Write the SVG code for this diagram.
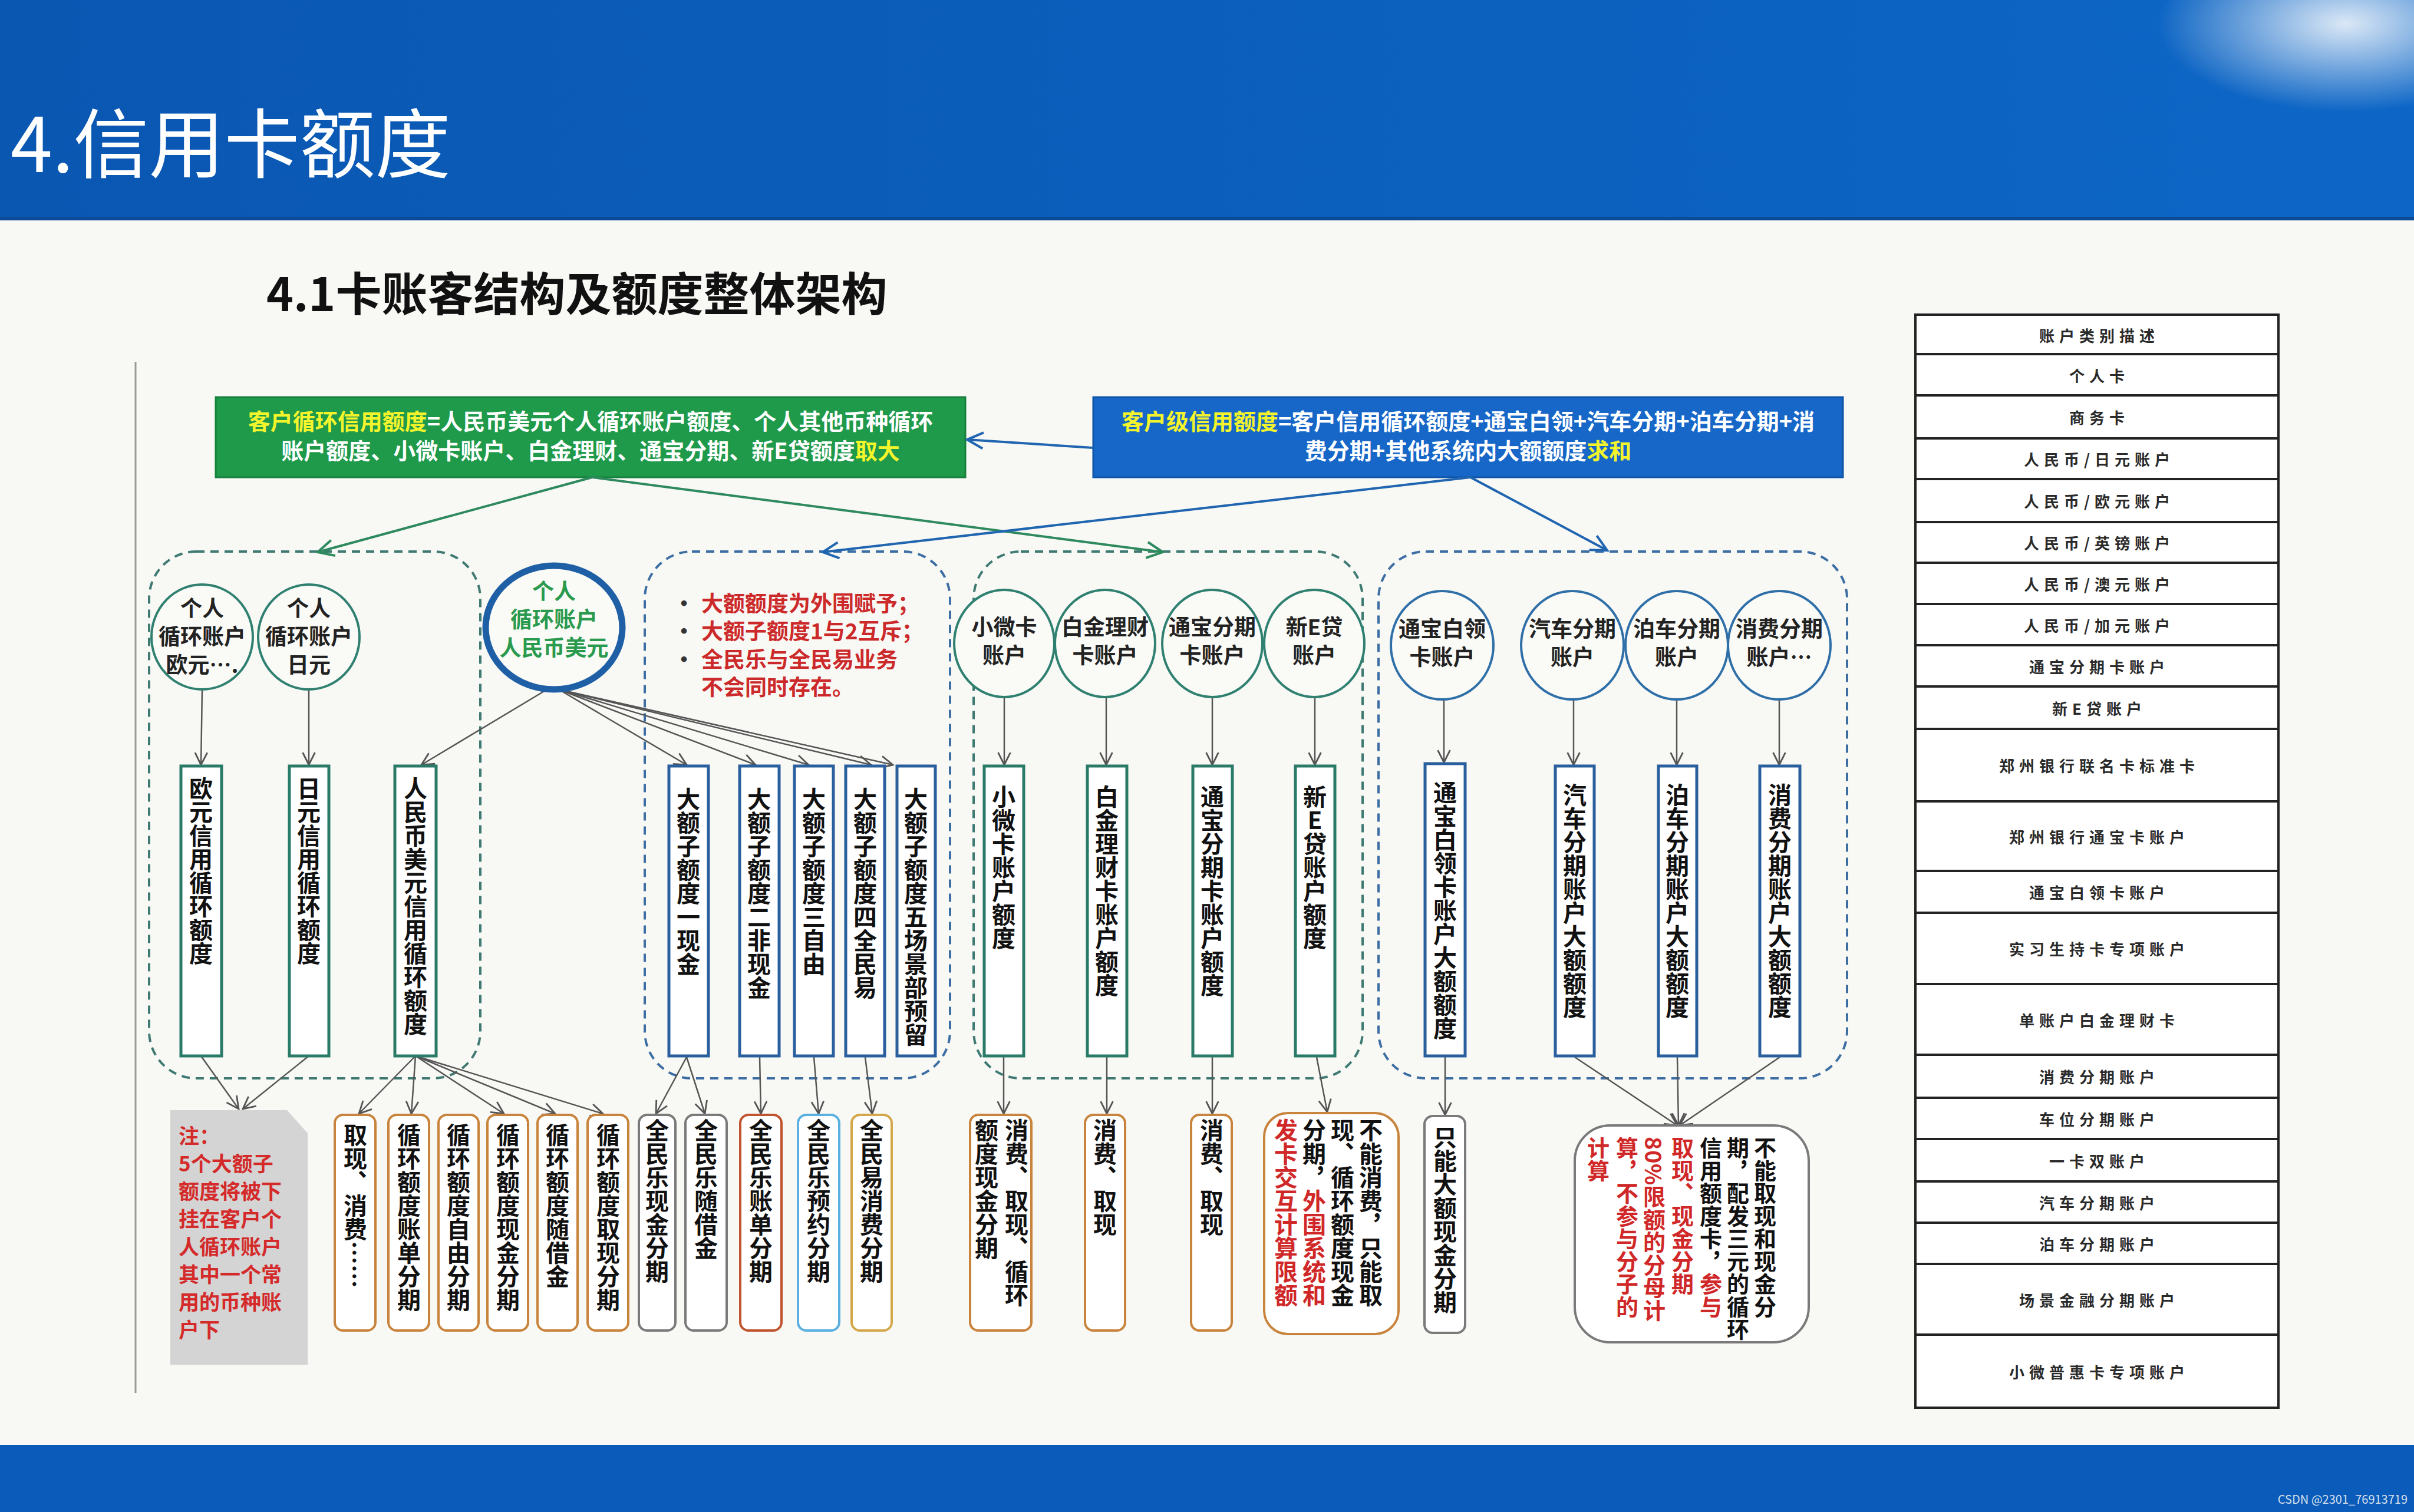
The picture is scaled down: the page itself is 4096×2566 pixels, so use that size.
<svg xmlns="http://www.w3.org/2000/svg" width="4096" height="2566" viewBox="0 0 4096 2566">
<style>
text{font-family:"Noto Sans CJK SC","Noto Sans",sans-serif}
.title{font-size:128px;fill:#fff}
.sub{font-size:78px;font-weight:700;fill:#111}
.bx{font-size:38px;font-weight:700;fill:#fff}
.hl{fill:#f4f42c}
.grp-g{fill:none;stroke:#3f7a72;stroke-width:4;stroke-dasharray:14 10}
.grp-b{fill:none;stroke:#3d6ea3;stroke-width:4;stroke-dasharray:14 10}
.cir-g{fill:#fafaf7;stroke:#2f8070;stroke-width:4}
.cir-b{fill:#fafaf7;stroke:#2f6fa8;stroke-width:4}
.ct{font-size:37px;font-weight:700;fill:#222;text-anchor:middle}
.rg{fill:#fff;stroke:#2a7a68;stroke-width:5}
.rb{fill:#fff;stroke:#2a5f9e;stroke-width:5}
.vt{font-size:40px;font-weight:700;fill:#111;writing-mode:vertical-rl}
.vs{font-size:38px;font-weight:700;fill:#111;writing-mode:vertical-rl;letter-spacing:0.5px}
.red{fill:#d02828}
.bo{fill:#fff;stroke:#c8843c;stroke-width:4}
.bgr{fill:#fff;stroke:#7a7a7a;stroke-width:4}
.bro{fill:#fff;stroke:#c0542e;stroke-width:4}
.blb{fill:#fff;stroke:#5ab0e0;stroke-width:4}
.bgo{fill:#fff;stroke:#d4a84a;stroke-width:4}
.bul{font-size:37px;font-weight:700;fill:#cc2a2a}
.note{font-size:35px;font-weight:700;fill:#d42a2a}
.tb{fill:#fff;stroke:#222;stroke-width:4}
.tt{font-size:26px;font-weight:700;fill:#2a2a2a;text-anchor:middle;letter-spacing:8px;dominant-baseline:central}
.cg{fill:none;stroke:#555;stroke-width:2.5}
</style>
<defs>
<linearGradient id="hdr" x1="0" y1="0" x2="1" y2="0">
<stop offset="0" stop-color="#0a57b2"/>
<stop offset="1" stop-color="#0d66c6"/>
</linearGradient>
<radialGradient id="glow" cx="0.5" cy="0.5" r="0.5">
<stop offset="0" stop-color="#ffffff" stop-opacity="0.85"/>
<stop offset="1" stop-color="#ffffff" stop-opacity="0"/>
</radialGradient>
<marker id="ag" viewBox="0 0 20 20" refX="18" refY="10" markerWidth="26" markerHeight="26" markerUnits="userSpaceOnUse" orient="auto">
<path d="M2,2 L18,10 L2,18" fill="none" stroke="#555" stroke-width="2.2"/>
</marker>
<marker id="agr" viewBox="0 0 20 20" refX="18" refY="10" markerWidth="34" markerHeight="34" markerUnits="userSpaceOnUse" orient="auto">
<path d="M2,2 L18,10 L2,18" fill="none" stroke="#2e8a5e" stroke-width="2.4"/>
</marker>
<marker id="abl" viewBox="0 0 20 20" refX="18" refY="10" markerWidth="34" markerHeight="34" markerUnits="userSpaceOnUse" orient="auto">
<path d="M2,2 L18,10 L2,18" fill="none" stroke="#2065b0" stroke-width="2.4"/>
</marker>
</defs>

<rect x="0" y="0" width="4096" height="2566" fill="#f8f8f5"/>

<g id="header">
<rect x="0" y="0" width="4096" height="373" fill="url(#hdr)"/>
<ellipse cx="3980" cy="40" rx="320" ry="150" fill="url(#glow)"/>
<rect x="0" y="368" width="4096" height="6" fill="#0a4a96"/>
<text x="18" y="292" class="title">4.信用卡额度</text>
</g>
<g id="footer">
<rect x="0" y="2452" width="4096" height="114" fill="#0b5cba"/>
<text x="4085" y="2552" font-size="20" fill="#d8e0ec" text-anchor="end">CSDN @2301_76913719</text>
</g>

<g id="subtitle">
<text x="452" y="528" class="sub">4.1卡账客结构及额度整体架构</text>
</g>
<line x1="230" y1="614" x2="230" y2="2364" stroke="#9a9a9a" stroke-width="3"/>

<g id="green-box">
<rect x="366" y="674" width="1272" height="136" fill="#1f9a4b" stroke="#17803c" stroke-width="3"/>
<text x="1002" y="729" class="bx" text-anchor="middle"><tspan class="hl">客户循环信用额度</tspan>=人民币美元个人循环账户额度、个人其他币种循环</text>
<text x="1002" y="779" class="bx" text-anchor="middle">账户额度、小微卡账户、白金理财、通宝分期、新E贷额度<tspan class="hl">取大</tspan></text>
</g>
<g id="blue-box">
<rect x="1855" y="674" width="1272" height="136" fill="#1767c8" stroke="#0f55a8" stroke-width="3"/>
<text x="2491" y="729" class="bx" text-anchor="middle"><tspan class="hl">客户级信用额度</tspan>=客户信用循环额度+通宝白领+汽车分期+泊车分期+消</text>
<text x="2491" y="779" class="bx" text-anchor="middle">费分期+其他系统内大额额度<tspan class="hl">求和</tspan></text>
</g>

<g id="groups">
<rect x="253" y="936" width="562" height="894" rx="80" class="grp-g"/>
<rect x="1094" y="936" width="518" height="894" rx="80" class="grp-b"/>
<rect x="1652" y="936" width="660" height="894" rx="80" class="grp-g"/>
<rect x="2339" y="936" width="795" height="894" rx="80" class="grp-b"/>
</g>

<g id="connectors">
<line x1="1005" y1="810" x2="539" y2="937" stroke="#2e8a5e" stroke-width="4" marker-end="url(#agr)"/>
<line x1="1005" y1="810" x2="1973" y2="937" stroke="#2e8a5e" stroke-width="4" marker-end="url(#agr)"/>
<line x1="2495" y1="810" x2="1396" y2="937" stroke="#2065b0" stroke-width="4" marker-end="url(#abl)"/>
<line x1="2495" y1="810" x2="2727" y2="934" stroke="#2065b0" stroke-width="4" marker-end="url(#abl)"/>
<line x1="1855" y1="760" x2="1641" y2="746" stroke="#2065b0" stroke-width="4" marker-end="url(#abl)"/>
<g class="cg">
<line x1="343" y1="1170" x2="341" y2="1298" marker-end="url(#ag)"/>
<line x1="524" y1="1170" x2="524" y2="1298" marker-end="url(#ag)"/>
<line x1="925" y1="1172" x2="715" y2="1298" marker-end="url(#ag)"/>
<line x1="948" y1="1170" x2="1165" y2="1298" marker-end="url(#ag)"/>
<line x1="948" y1="1170" x2="1282" y2="1298" marker-end="url(#ag)"/>
<line x1="948" y1="1170" x2="1372" y2="1298" marker-end="url(#ag)"/>
<line x1="948" y1="1170" x2="1478" y2="1298" marker-end="url(#ag)"/>
<line x1="948" y1="1170" x2="1515" y2="1298" marker-end="url(#ag)"/>
<line x1="1704" y1="1183" x2="1704" y2="1298" marker-end="url(#ag)"/>
<line x1="1877" y1="1183" x2="1877" y2="1298" marker-end="url(#ag)"/>
<line x1="2057" y1="1183" x2="2057" y2="1298" marker-end="url(#ag)"/>
<line x1="2231" y1="1183" x2="2231" y2="1298" marker-end="url(#ag)"/>
<line x1="2450" y1="1187" x2="2450" y2="1294" marker-end="url(#ag)"/>
<line x1="2670" y1="1187" x2="2670" y2="1298" marker-end="url(#ag)"/>
<line x1="2845" y1="1187" x2="2845" y2="1298" marker-end="url(#ag)"/>
<line x1="3019" y1="1187" x2="3019" y2="1298" marker-end="url(#ag)"/>
<line x1="341" y1="1792" x2="405" y2="1882" marker-end="url(#ag)"/>
<line x1="524" y1="1792" x2="412" y2="1882" marker-end="url(#ag)"/>
<line x1="705" y1="1792" x2="609" y2="1890" marker-end="url(#ag)"/>
<line x1="705" y1="1792" x2="698" y2="1890" marker-end="url(#ag)"/>
<line x1="705" y1="1792" x2="855" y2="1890" marker-end="url(#ag)"/>
<line x1="705" y1="1792" x2="942" y2="1890" marker-end="url(#ag)"/>
<line x1="705" y1="1792" x2="1023" y2="1890" marker-end="url(#ag)"/>
<line x1="1165" y1="1794" x2="1113" y2="1890" marker-end="url(#ag)"/>
<line x1="1165" y1="1794" x2="1196" y2="1890" marker-end="url(#ag)"/>
<line x1="1289" y1="1794" x2="1291" y2="1890" marker-end="url(#ag)"/>
<line x1="1381" y1="1794" x2="1389" y2="1890" marker-end="url(#ag)"/>
<line x1="1468" y1="1794" x2="1480" y2="1890" marker-end="url(#ag)"/>
<line x1="1703" y1="1794" x2="1703" y2="1890" marker-end="url(#ag)"/>
<line x1="1878" y1="1794" x2="1878" y2="1890" marker-end="url(#ag)"/>
<line x1="2057" y1="1794" x2="2057" y2="1890" marker-end="url(#ag)"/>
<line x1="2234" y1="1794" x2="2252" y2="1887" marker-end="url(#ag)"/>
<line x1="2452" y1="1794" x2="2452" y2="1892" marker-end="url(#ag)"/>
<line x1="2672" y1="1794" x2="2846" y2="1910" marker-end="url(#ag)"/>
<line x1="2846" y1="1794" x2="2848" y2="1910" marker-end="url(#ag)"/>
<line x1="3020" y1="1794" x2="2850" y2="1910" marker-end="url(#ag)"/>
</g>
</g>

<g id="c-eur"><ellipse cx="343" cy="1081" rx="86" ry="89" class="cir-g"/>
<text class="ct"><tspan x="343" y="1046">个人</tspan><tspan x="343" y="1094">循环账户</tspan><tspan x="343" y="1142">欧元….</tspan></text></g>
<g id="c-jpy"><ellipse cx="524" cy="1081" rx="86" ry="89" class="cir-g"/>
<text class="ct"><tspan x="524" y="1046">个人</tspan><tspan x="524" y="1094">循环账户</tspan><tspan x="524" y="1142">日元</tspan></text></g>
<g id="c-cny"><ellipse cx="940" cy="1065" rx="116" ry="105" fill="#fafaf7" stroke="#1e5fa5" stroke-width="11"/>
<text class="ct" style="fill:#2a9a4e"><tspan x="940" y="1017">个人</tspan><tspan x="940" y="1065">循环账户</tspan><tspan x="940" y="1113">人民币美元</tspan></text></g>

<g id="c-xw"><ellipse cx="1704" cy="1092" rx="85" ry="91" class="cir-g"/>
<text class="ct"><tspan x="1704" y="1078">小微卡</tspan><tspan x="1704" y="1126">账户</tspan></text></g>
<g id="c-bj"><ellipse cx="1875" cy="1092" rx="85" ry="91" class="cir-g"/>
<text class="ct"><tspan x="1875" y="1078">白金理财</tspan><tspan x="1875" y="1126">卡账户</tspan></text></g>
<g id="c-tb"><ellipse cx="2057" cy="1092" rx="85" ry="91" class="cir-g"/>
<text class="ct"><tspan x="2057" y="1078">通宝分期</tspan><tspan x="2057" y="1126">卡账户</tspan></text></g>
<g id="c-xe"><ellipse cx="2230" cy="1092" rx="85" ry="91" class="cir-g"/>
<text class="ct"><tspan x="2230" y="1078">新E贷</tspan><tspan x="2230" y="1126">账户</tspan></text></g>

<g id="c-tbbl"><ellipse cx="2447" cy="1095" rx="87" ry="92" class="cir-b"/>
<text class="ct"><tspan x="2447" y="1081">通宝白领</tspan><tspan x="2447" y="1129">卡账户</tspan></text></g>
<g id="c-qc"><ellipse cx="2668" cy="1095" rx="87" ry="92" class="cir-b"/>
<text class="ct"><tspan x="2668" y="1081">汽车分期</tspan><tspan x="2668" y="1129">账户</tspan></text></g>
<g id="c-bc"><ellipse cx="2845" cy="1095" rx="87" ry="92" class="cir-b"/>
<text class="ct"><tspan x="2845" y="1081">泊车分期</tspan><tspan x="2845" y="1129">账户</tspan></text></g>
<g id="c-xf"><ellipse cx="3019" cy="1095" rx="87" ry="92" class="cir-b"/>
<text class="ct"><tspan x="3019" y="1081">消费分期</tspan><tspan x="3019" y="1129">账户…</tspan></text></g>

<g id="bullets">
<text class="bul"><tspan x="1142" y="1038" fill="#333">•</tspan><tspan x="1190" y="1038">大额额度为外围赋予；</tspan></text>
<text class="bul"><tspan x="1142" y="1085" fill="#333">•</tspan><tspan x="1190" y="1085">大额子额度1与2互斥；</tspan></text>
<text class="bul"><tspan x="1142" y="1133" fill="#333">•</tspan><tspan x="1190" y="1133">全民乐与全民易业务</tspan></text>
<text class="bul"><tspan x="1190" y="1180">不会同时存在。</tspan></text>
</g>

<g id="r-eur"><rect x="307" y="1300" width="69" height="492" class="rg"/><text x="341" y="1318" class="vt">欧元信用循环额度</text></g>
<g id="r-jpy"><rect x="491" y="1300" width="67" height="492" class="rg"/><text x="524" y="1318" class="vt">日元信用循环额度</text></g>
<g id="r-cny"><rect x="670" y="1300" width="70" height="492" class="rg"/><text x="705" y="1318" class="vt">人民币美元信用循环额度</text></g>

<g id="r-d1"><rect x="1135" y="1300" width="67" height="492" class="rb"/><text x="1168" y="1336" class="vt">大额子额度一现金</text></g>
<g id="r-d2"><rect x="1255" y="1300" width="67" height="492" class="rb"/><text x="1288" y="1336" class="vt">大额子额度二非现金</text></g>
<g id="r-d3"><rect x="1348" y="1300" width="66" height="492" class="rb"/><text x="1381" y="1336" class="vt">大额子额度三自由</text></g>
<g id="r-d4"><rect x="1435" y="1300" width="66" height="492" class="rb"/><text x="1468" y="1336" class="vt">大额子额度四全民易</text></g>
<g id="r-d5"><rect x="1522" y="1300" width="65" height="492" class="rb"/><text x="1554" y="1336" class="vt">大额子额度五场景部预留</text></g>

<g id="r-xw"><rect x="1670" y="1300" width="67" height="492" class="rg"/><text x="1703" y="1332" class="vt">小微卡账户额度</text></g>
<g id="r-bj"><rect x="1845" y="1300" width="67" height="492" class="rg"/><text x="1878" y="1332" class="vt">白金理财卡账户额度</text></g>
<g id="r-tb"><rect x="2024" y="1300" width="67" height="492" class="rg"/><text x="2057" y="1332" class="vt">通宝分期卡账户额度</text></g>
<g id="r-xe"><rect x="2198" y="1300" width="67" height="492" class="rg"/><text x="2231" y="1332" class="vt" style="text-orientation:upright">新E贷账户额度</text></g>

<g id="r-tbbl"><rect x="2418" y="1296" width="68" height="496" class="rb"/><text x="2452" y="1325" class="vt">通宝白领卡账户大额额度</text></g>
<g id="r-qc"><rect x="2639" y="1300" width="66" height="492" class="rb"/><text x="2672" y="1329" class="vt">汽车分期账户大额额度</text></g>
<g id="r-bc"><rect x="2814" y="1300" width="65" height="492" class="rb"/><text x="2846" y="1329" class="vt">泊车分期账户大额额度</text></g>
<g id="r-xf"><rect x="2986" y="1300" width="68" height="492" class="rb"/><text x="3020" y="1329" class="vt">消费分期账户大额额度</text></g>

<g id="note">
<path d="M289,1884 L487,1884 L522,1923 L522,2316 L289,2316 Z" fill="#d4d4d4"/>
<text class="note"><tspan x="303" y="1941">注：</tspan><tspan x="303" y="1988">5个大额子</tspan><tspan x="303" y="2035">额度将被下</tspan><tspan x="303" y="2082">挂在客户个</tspan><tspan x="303" y="2129">人循环账户</tspan><tspan x="303" y="2176">其中一个常</tspan><tspan x="303" y="2223">用的币种账</tspan><tspan x="303" y="2270">户下</tspan></text>
</g>

<g id="b1"><rect x="568" y="1892" width="69" height="366" rx="14" class="bo"/><text x="603" y="1906" class="vt">取现、消费……</text></g>
<g id="b2"><rect x="659" y="1892" width="69" height="366" rx="14" class="bo"/><text x="694" y="1906" class="vt">循环额度账单分期</text></g>
<g id="b3"><rect x="744" y="1892" width="68" height="366" rx="14" class="bo"/><text x="778" y="1906" class="vt">循环额度自由分期</text></g>
<g id="b4"><rect x="827" y="1892" width="69" height="366" rx="14" class="bo"/><text x="862" y="1906" class="vt">循环额度现金分期</text></g>
<g id="b5"><rect x="912" y="1892" width="68" height="366" rx="14" class="bo"/><text x="946" y="1906" class="vt">循环额度随借金</text></g>
<g id="b6"><rect x="997" y="1892" width="69" height="366" rx="14" class="bo"/><text x="1032" y="1906" class="vt">循环额度取现分期</text></g>
<g id="b7"><rect x="1084" y="1892" width="62" height="366" rx="14" class="bgr"/><text x="1115" y="1898" class="vt">全民乐现金分期</text></g>
<g id="b8"><rect x="1163" y="1892" width="70" height="366" rx="14" class="bgr"/><text x="1198" y="1898" class="vt">全民乐随借金</text></g>
<g id="b9"><rect x="1256" y="1892" width="70" height="366" rx="14" class="bro"/><text x="1291" y="1898" class="vt">全民乐账单分期</text></g>
<g id="b10"><rect x="1354" y="1892" width="70" height="366" rx="14" class="blb"/><text x="1389" y="1898" class="vt">全民乐预约分期</text></g>
<g id="b11"><rect x="1445" y="1892" width="68" height="366" rx="14" class="bgo"/><text x="1479" y="1898" class="vt">全民易消费分期</text></g>
<g id="b12"><rect x="1646" y="1892" width="104" height="366" rx="14" class="bo"/><text x="1725" y="1898" class="vt">消费、取现、循环</text><text x="1674" y="1898" class="vt">额度现金分期</text></g>
<g id="b13"><rect x="1841" y="1892" width="68" height="366" rx="14" class="bo"/><text x="1875" y="1898" class="vt">消费、取现</text></g>
<g id="b14"><rect x="2021" y="1892" width="69" height="366" rx="14" class="bo"/><text x="2056" y="1898" class="vt">消费、取现</text></g>
<g id="b15"><rect x="2145" y="1889" width="228" height="375" rx="40" class="bo"/>
<text x="2326" y="1898" class="vt">不能消费，只能取</text>
<text x="2278" y="1898" class="vt">现、循环额度现金</text>
<text x="2230" y="1898" class="vt">分期，<tspan class="red">外围系统和</tspan></text>
<text x="2182" y="1898" class="vt red">发卡交互计算限额</text></g>
<g id="b16"><rect x="2417" y="1894" width="69" height="368" rx="14" class="bgr"/><text x="2452" y="1910" class="vt">只能大额现金分期</text></g>
<g id="b17"><rect x="2672" y="1910" width="397" height="368" rx="60" class="bgr"/>
<text x="2995" y="1929" class="vs">不能取现和现金分</text>
<text x="2949" y="1929" class="vs">期，配发三元的循环</text>
<text x="2903" y="1929" class="vs">信用额度卡，<tspan class="red">参与</tspan></text>
<text x="2855" y="1929" class="vs red">取现、现金分期</text>
<text x="2807" y="1929" class="vs red">80%限额的分母计</text>
<text x="2761" y="1929" class="vs red">算，不参与分子的</text>
<text x="2712" y="1929" class="vs red">计算</text></g>

<g id="table">
<rect x="3250" y="534" width="616" height="1855" class="tb"/>
<g stroke="#222" stroke-width="4">
<line x1="3250" y1="601" x2="3866" y2="601"/><line x1="3250" y1="671" x2="3866" y2="671"/>
<line x1="3250" y1="744" x2="3866" y2="744"/><line x1="3250" y1="813" x2="3866" y2="813"/>
<line x1="3250" y1="886" x2="3866" y2="886"/><line x1="3250" y1="955" x2="3866" y2="955"/>
<line x1="3250" y1="1025" x2="3866" y2="1025"/><line x1="3250" y1="1095" x2="3866" y2="1095"/>
<line x1="3250" y1="1165" x2="3866" y2="1165"/><line x1="3250" y1="1237" x2="3866" y2="1237"/>
<line x1="3250" y1="1360" x2="3866" y2="1360"/><line x1="3250" y1="1478" x2="3866" y2="1478"/>
<line x1="3250" y1="1549" x2="3866" y2="1549"/><line x1="3250" y1="1670" x2="3866" y2="1670"/>
<line x1="3250" y1="1790" x2="3866" y2="1790"/><line x1="3250" y1="1863" x2="3866" y2="1863"/>
<line x1="3250" y1="1933" x2="3866" y2="1933"/><line x1="3250" y1="2005" x2="3866" y2="2005"/>
<line x1="3250" y1="2075" x2="3866" y2="2075"/><line x1="3250" y1="2145" x2="3866" y2="2145"/>
<line x1="3250" y1="2265" x2="3866" y2="2265"/>
</g>
<text x="3562" y="568" class="tt">账户类别描述</text>
<text x="3562" y="636" class="tt">个人卡</text>
<text x="3562" y="707" class="tt">商务卡</text>
<text x="3562" y="778" class="tt">人民币/日元账户</text>
<text x="3562" y="849" class="tt">人民币/欧元账户</text>
<text x="3562" y="920" class="tt">人民币/英镑账户</text>
<text x="3562" y="990" class="tt">人民币/澳元账户</text>
<text x="3562" y="1060" class="tt">人民币/加元账户</text>
<text x="3562" y="1130" class="tt">通宝分期卡账户</text>
<text x="3562" y="1201" class="tt">新E贷账户</text>
<text x="3562" y="1298" class="tt">郑州银行联名卡标准卡</text>
<text x="3562" y="1419" class="tt">郑州银行通宝卡账户</text>
<text x="3562" y="1513" class="tt">通宝白领卡账户</text>
<text x="3562" y="1609" class="tt">实习生持卡专项账户</text>
<text x="3562" y="1730" class="tt">单账户白金理财卡</text>
<text x="3562" y="1826" class="tt">消费分期账户</text>
<text x="3562" y="1898" class="tt">车位分期账户</text>
<text x="3562" y="1969" class="tt">一卡双账户</text>
<text x="3562" y="2040" class="tt">汽车分期账户</text>
<text x="3562" y="2110" class="tt">泊车分期账户</text>
<text x="3562" y="2205" class="tt">场景金融分期账户</text>
<text x="3562" y="2327" class="tt">小微普惠卡专项账户</text>
</g>
</svg>
